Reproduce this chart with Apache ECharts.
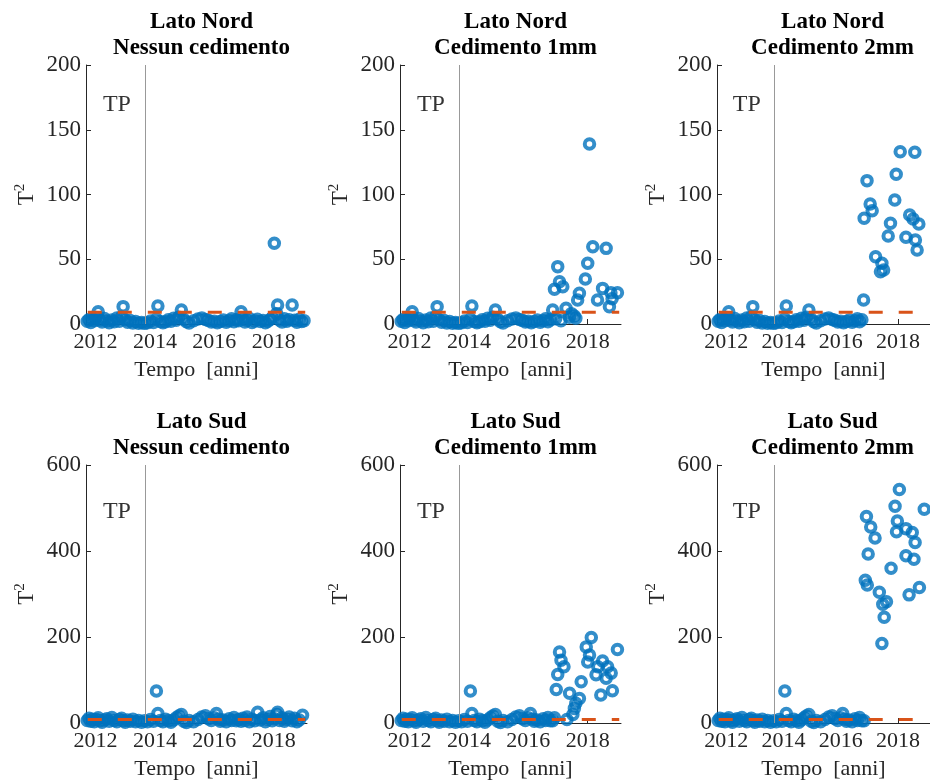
<!DOCTYPE html>
<html>
<head>
<meta charset="utf-8">
<script src="https://cdn.jsdelivr.net/npm/echarts@6/dist/echarts.min.js"></script>
<style>
  html, body { margin: 0; padding: 0; background: #fff; }
  #chart { width: 930px; height: 782px; }
</style>
</head>
<body>
<div id="chart"></div>
<script>
// asse dei tempi (anni decimali)
const tempoMin = 2011.68
const tempoMax = 2019.12
const tempoTP = 2013.67
const anniTick = [2012, 2014, 2016, 2018]
const sogliaNord = 9
const sogliaSud = 8
const sogliaDa = 2011.74
const sogliaA = 2019.06
const tpLabel = { x: 2012.72, nord: 169, sud: 492 }

// Lato Nord: punti comuni prima del 2016.8
const nordBase = [
  [2011.72, 2.1], [2011.78, 3.5], [2011.84, 1.2], [2011.9, 4.0], [2011.96, 2.6], [2012.02, 5.1],
  [2012.09, 9.5], [2012.15, 3.0], [2012.22, 1.5], [2012.3, 4.2], [2012.38, 2.4], [2012.46, 0.9],
  [2012.55, 3.1], [2012.63, 1.8], [2012.72, 4.6], [2012.8, 2.2], [2012.88, 5.5], [2012.93, 13.4],
  [2013.0, 3.3], [2013.08, 1.4], [2013.17, 2.7], [2013.26, 0.8], [2013.35, 1.9], [2013.45, 0.6],
  [2013.55, 1.2], [2013.65, 0.5], [2013.75, 1.0], [2013.85, 2.3], [2013.95, 1.1], [2014.05, 3.8],
  [2014.1, 13.9], [2014.18, 2.0], [2014.27, 0.9], [2014.36, 1.7], [2014.45, 3.2], [2014.54, 2.1],
  [2014.63, 4.4], [2014.72, 2.9], [2014.8, 5.3], [2014.89, 10.8], [2014.97, 3.6], [2015.06, 1.8],
  [2015.15, 0.7], [2015.3, 2.5], [2015.45, 3.9], [2015.58, 4.6], [2015.7, 3.4], [2015.8, 2.8],
  [2015.9, 1.6], [2016.0, 2.2], [2016.1, 0.9], [2016.2, 1.9], [2016.3, 3.0], [2016.4, 1.3],
  [2016.5, 2.6], [2016.58, 4.1], [2016.66, 1.7], [2016.74, 3.2]
]
const nordNessun = [
  [2016.82, 2.5], [2016.9, 9.5], [2016.96, 3.8], [2017.03, 1.6], [2017.1, 2.9], [2017.18, 4.3],
  [2017.27, 1.2], [2017.36, 2.4], [2017.45, 3.6], [2017.55, 1.9], [2017.64, 2.7], [2017.72, 0.9],
  [2017.8, 2.1], [2017.88, 3.4], [2017.95, 4.8], [2018.02, 62.3], [2018.1, 8.0], [2018.13, 14.7],
  [2018.2, 3.0], [2018.28, 1.5], [2018.36, 4.1], [2018.44, 2.2], [2018.52, 3.3], [2018.62, 14.7],
  [2018.7, 2.8], [2018.78, 1.4], [2018.86, 3.7], [2018.94, 2.0], [2019.02, 2.6]
]
const nord1mm = [
  [2016.82, 10.8], [2016.88, 26.8], [2016.92, 4.0], [2016.99, 44.3], [2017.05, 32.7], [2017.1, 2.5],
  [2017.16, 28.8], [2017.27, 12.1], [2017.38, 5.2], [2017.45, 8.0], [2017.55, 6.2], [2017.6, 4.5],
  [2017.66, 18.5], [2017.72, 23.7], [2017.92, 34.7], [2018.0, 46.9], [2018.06, 139], [2018.17, 59.7],
  [2018.33, 18.5], [2018.5, 27.5], [2018.62, 58.4], [2018.73, 13.4], [2018.78, 24.2], [2018.82, 19.5],
  [2019.0, 24.2]
]
const nord2mm = [
  [2016.8, 18.5], [2016.82, 81.6], [2016.92, 110.7], [2017.03, 92.7], [2017.1, 87.5], [2017.22, 52],
  [2017.39, 40.4], [2017.44, 46.9], [2017.5, 41.7], [2017.66, 68], [2017.74, 77.8], [2017.89, 95.8],
  [2017.94, 115.6], [2018.08, 133], [2018.28, 67], [2018.41, 84.2], [2018.53, 81.1], [2018.59, 132.6],
  [2018.61, 64.9], [2018.67, 57.1], [2018.73, 77.2]
]

// Lato Sud: punti comuni prima del 2016.8
const sudBase = [
  [2011.72, 6], [2011.78, 11], [2011.84, 4], [2011.9, 9], [2011.96, 3], [2012.02, 8],
  [2012.09, 12], [2012.15, 5], [2012.22, 2], [2012.3, 7], [2012.38, 10], [2012.46, 4],
  [2012.55, 13], [2012.63, 6], [2012.72, 3], [2012.8, 8], [2012.88, 11], [2012.93, 5],
  [2013.0, 2], [2013.08, 7], [2013.17, 4], [2013.26, 9], [2013.35, 3], [2013.45, 6],
  [2013.55, 2], [2013.65, 5], [2013.75, 3], [2013.85, 8], [2013.95, 4], [2014.05, 74.4],
  [2014.1, 22], [2014.18, 6], [2014.27, 3], [2014.36, 9], [2014.45, 5], [2014.54, 2],
  [2014.63, 7], [2014.72, 12], [2014.8, 16], [2014.89, 20], [2014.97, 4], [2015.06, 1],
  [2015.15, 6], [2015.3, 3], [2015.45, 8], [2015.58, 14], [2015.7, 17], [2015.8, 10],
  [2015.9, 6], [2016.0, 12], [2016.07, 22], [2016.15, 9], [2016.2, 4], [2016.3, 7],
  [2016.4, 3], [2016.5, 10], [2016.58, 6], [2016.66, 13], [2016.74, 5]
]
const sudNessun = [
  [2016.82, 8], [2016.9, 4], [2016.96, 11], [2017.03, 6], [2017.1, 14], [2017.18, 3],
  [2017.27, 9], [2017.36, 5], [2017.46, 25], [2017.55, 7], [2017.64, 12], [2017.72, 3],
  [2017.8, 8], [2017.88, 15], [2017.95, 5], [2018.02, 10], [2018.1, 20], [2018.13, 25],
  [2018.2, 6], [2018.28, 12], [2018.36, 4], [2018.44, 9], [2018.52, 14], [2018.62, 5],
  [2018.7, 11], [2018.78, 3], [2018.86, 7], [2018.97, 18]
]
const sud1mm = [
  [2016.82, 5], [2016.88, 12], [2016.94, 78], [2016.99, 113], [2017.05, 165], [2017.1, 146],
  [2017.2, 131], [2017.3, 8], [2017.39, 69], [2017.5, 20], [2017.55, 34], [2017.6, 46],
  [2017.72, 57], [2017.78, 96], [2017.95, 177], [2018.0, 142], [2018.06, 158], [2018.12, 199],
  [2018.28, 112], [2018.34, 131], [2018.44, 65], [2018.5, 144], [2018.62, 104], [2018.67, 131],
  [2018.79, 116], [2018.83, 75], [2019.0, 171]
]
const sud2mm = [
  [2016.82, 5], [2016.86, 332], [2016.9, 480], [2016.93, 321], [2016.96, 393], [2017.05, 456],
  [2017.2, 430], [2017.35, 304], [2017.44, 185], [2017.47, 276], [2017.52, 246], [2017.6, 282],
  [2017.76, 360], [2017.9, 504], [2017.95, 445], [2017.98, 470], [2018.05, 543], [2018.28, 452],
  [2018.28, 389], [2018.39, 298], [2018.5, 443], [2018.56, 381], [2018.6, 420], [2018.75, 315],
  [2018.92, 497]
]

const pannelli = [
  { titolo: 'Lato Nord\nNessun cedimento', dati: nordBase.concat(nordNessun), left: 86, top: 65, height: 259, yMax: 200, yStep: 50, soglia: sogliaNord, tpY: tpLabel.nord },
  { titolo: 'Lato Nord\nCedimento 1mm', dati: nordBase.concat(nord1mm), left: 400, top: 65, height: 259, yMax: 200, yStep: 50, soglia: sogliaNord, tpY: tpLabel.nord },
  { titolo: 'Lato Nord\nCedimento 2mm', dati: nordBase.concat(nord2mm), left: 717, top: 65, height: 259, yMax: 200, yStep: 50, soglia: sogliaNord, tpY: tpLabel.nord },
  { titolo: 'Lato Sud\nNessun cedimento', dati: sudBase.concat(sudNessun), left: 86, top: 465, height: 258, yMax: 600, yStep: 200, soglia: sogliaSud, tpY: tpLabel.sud },
  { titolo: 'Lato Sud\nCedimento 1mm', dati: sudBase.concat(sud1mm), left: 400, top: 465, height: 258, yMax: 600, yStep: 200, soglia: sogliaSud, tpY: tpLabel.sud },
  { titolo: 'Lato Sud\nCedimento 2mm', dati: sudBase.concat(sud2mm), left: 717, top: 465, height: 258, yMax: 600, yStep: 200, soglia: sogliaSud, tpY: tpLabel.sud }
]

const larghezza = 221
const font = '"Liberation Serif", "Times New Roman", serif'
const scuro = '#262626'

const chart = echarts.init(document.getElementById('chart'))

const option = {
  backgroundColor: '#fff',
  animation: false,
  title: [],
  grid: [],
  xAxis: [],
  yAxis: [],
  series: []
}

pannelli.forEach((p, i) => {
  option.title.push({
    text: p.titolo,
    left: p.left + larghezza / 2,
    top: p.top - 61,
    textAlign: 'center',
    textStyle: { fontFamily: font, fontSize: 23, fontWeight: 'bold', color: '#000', lineHeight: 26 }
  })
  option.grid.push({ left: p.left, top: p.top, width: larghezza, height: p.height })
  option.xAxis.push({
    type: 'value',
    gridIndex: i,
    min: tempoMin,
    max: tempoMax,
    name: 'Tempo  [anni]',
    nameLocation: 'middle',
    nameGap: 35,
    nameTextStyle: { fontFamily: font, fontSize: 22, color: scuro },
    axisLine: { show: true, onZero: false, lineStyle: { color: scuro, width: 1 } },
    axisTick: { show: true, inside: true, length: 5, customValues: anniTick, lineStyle: { color: scuro } },
    axisLabel: { customValues: anniTick, formatter: v => String(v), margin: 7, fontFamily: font, fontSize: 22, color: scuro },
    splitLine: { show: false }
  })
  option.yAxis.push({
    type: 'value',
    gridIndex: i,
    min: 0,
    max: p.yMax,
    interval: p.yStep,
    name: '{t|T}{s|2}',
    nameLocation: 'middle',
    nameGap: 48,
    nameTextStyle: {
      color: scuro,
      rich: {
        t: { fontFamily: font, fontSize: 23, color: scuro, verticalAlign: 'bottom' },
        s: { fontFamily: font, fontSize: 15, color: scuro, verticalAlign: 'top', padding: [0, 0, 10, 0] }
      }
    },
    axisLine: { show: true, lineStyle: { color: scuro, width: 1 } },
    axisTick: { show: true, inside: true, length: 5, lineStyle: { color: scuro } },
    axisLabel: { margin: 5, fontFamily: font, fontSize: 23, color: scuro },
    splitLine: { show: false }
  })
  option.series.push({
    type: 'scatter',
    xAxisIndex: i,
    yAxisIndex: i,
    data: p.dati,
    clip: false,
    symbol: 'circle',
    symbolSize: 9.5,
    itemStyle: { color: 'rgba(0,0,0,0)', borderColor: '#0072BD', borderWidth: 4 },
    z: 2
  })
  option.series.push({
    type: 'line',
    xAxisIndex: i,
    yAxisIndex: i,
    data: [[sogliaDa, p.soglia], [sogliaA, p.soglia]],
    symbol: 'none',
    lineStyle: { color: '#D95319', width: 3, type: [14, 16] },
    z: 3,
    markLine: {
      silent: true,
      symbol: 'none',
      label: { show: false },
      lineStyle: { color: '#999999', width: 1, type: 'solid' },
      data: [{ xAxis: tempoTP }]
    }
  })
  // etichetta TP
  option.series.push({
    type: 'scatter',
    xAxisIndex: i,
    yAxisIndex: i,
    data: [[tpLabel.x, p.tpY]],
    symbolSize: 0,
    label: { show: true, position: 'inside', formatter: 'TP', fontFamily: font, fontSize: 24, color: '#000' },
    z: 4
  })
})

chart.setOption(option)
</script>
</body>
</html>
